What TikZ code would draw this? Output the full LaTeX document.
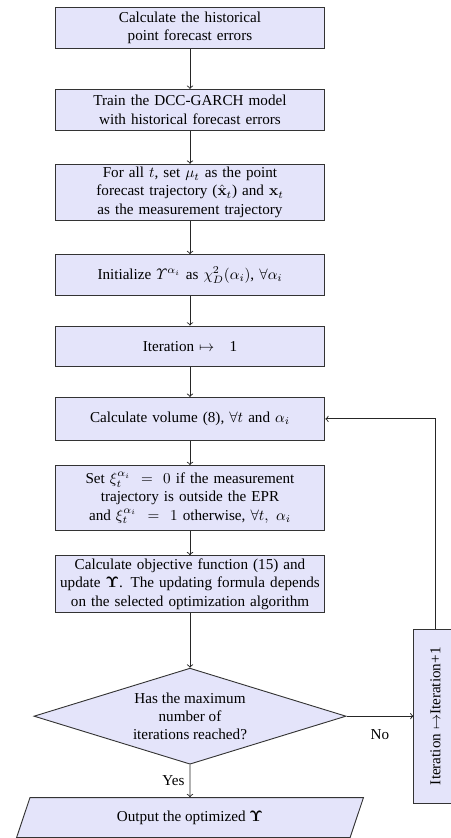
\documentclass[tikz,border=0pt]{standalone}
\usepackage{amsmath,amssymb}
\usepackage{graphicx}
\usepackage[no-math]{fontspec}
\setmainfont{Liberation Serif}
\usetikzlibrary{positioning,shapes.geometric}
\definecolor{boxfill}{RGB}{228,228,250}
\tikzset{
  stepbox/.style={
    draw=black!80,
    fill=boxfill,
    line width=0.6pt,
    text width=172pt,
    align=center,
    inner xsep=3pt,
    inner ysep=2pt,
    minimum height=27pt
  },
  decide/.style={diamond, aspect=3.25, draw=black!80, fill=boxfill, line width=0.6pt,
    align=center, inner sep=0pt, minimum width=206pt, minimum height=63.4pt},
  outbox/.style={trapezium, trapezium left angle=66, trapezium right angle=114,
    trapezium stretches=true, draw=black!80, fill=boxfill, line width=0.6pt,
    minimum width=229pt, minimum height=26.4pt, inner sep=0pt},
  loopbox/.style={draw=black!80, fill=boxfill, line width=0.6pt,
    minimum width=28.4pt, minimum height=115pt, inner sep=0pt},
  flow/.style={->, line width=0.6pt, draw=black!85},
  lbl/.style={inner sep=3.33pt}
}

\begin{document}
\begin{tikzpicture}[x=0.66pt, y=-0.66pt]
  \useasboundingbox (0,0) rectangle (451,838);
  \node[stepbox] (calcErr) at (190,28) {Calculate the historical\\ point forecast errors};
  \node[stepbox, below=26.4pt of calcErr] (trainDcc) {Train the DCC-GARCH model\\ with historical forecast errors};
  \node[stepbox, below=21.8pt of trainDcc, minimum height=37pt] (setTraj) {For all $t$, set $\mu_t$ as the point\\ forecast trajectory ($\hat{\mathbf{x}}_t$) and $\mathbf{x}_t$\\ as the measurement trajectory};
  \node[stepbox, below=22pt of setTraj] (initUps) {Initialize $\varUpsilon^{\alpha_i}$ as $\chi^2_D(\alpha_i)$, $\forall\alpha_i$};
  \node[stepbox, below=19.5pt of initUps] (iterOne) {Iteration $\mapsto$\quad 1};
  \node[stepbox, below=19.5pt of iterOne, minimum height=28.4pt] (calcVol) {Calculate volume (8), $\forall t$ and $\alpha_i$};
  \node[stepbox, below=16pt of calcVol, minimum height=42.9pt] (setXi) {Set $\xi_t^{\alpha_i}\,=\,0$ if the measurement\\ trajectory is outside the EPR\\ and $\xi_t^{\alpha_i}\,=\,1$ otherwise, $\forall t,\ \alpha_i$};
  \node[stepbox, below=16pt of setXi, minimum height=37.6pt] (calcObj) {Calculate objective function (15) and\\ update $\mathbf{\Upsilon}$. The updating formula depends\\ on the selected optimization algorithm};
  \node[decide, below=36pt of calcObj] (maxIter) {Has the maximum\\ number of\\ iterations reached?};
  \node[outbox, below=21.5pt of maxIter] (outUps) {Output the optimized $\mathbf{\Upsilon}$};
  \node[loopbox, right=44.2pt of maxIter] (iterInc) {\rotatebox{90}{Iteration $\mapsto$Iteration+1}};

  \foreach \a/\b in {calcErr/trainDcc,trainDcc/setTraj,setTraj/initUps,initUps/iterOne,iterOne/calcVol,calcVol/setXi,setXi/calcObj,calcObj/maxIter}
    \draw[flow] (\a) -- (\b);
  \draw[flow] (maxIter) -- node[lbl, left] {Yes} (outUps);
  \draw[flow] (maxIter) -- node[lbl, below=5pt] {No} (iterInc);
  \draw[flow] (iterInc.north) |- (calcVol.east);
\end{tikzpicture}
\end{document}
